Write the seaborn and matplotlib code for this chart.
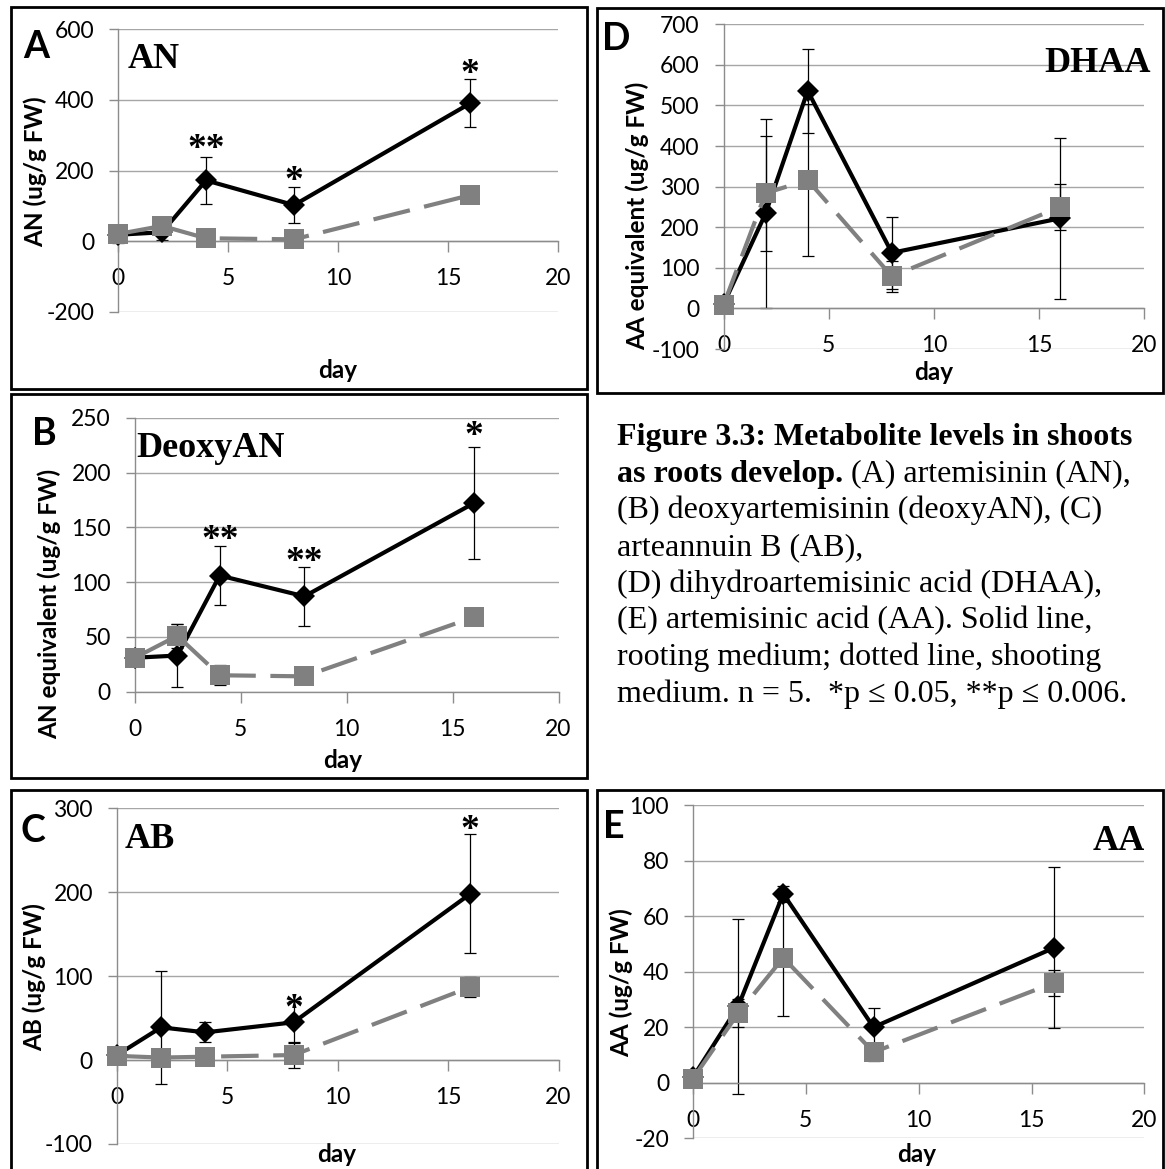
import matplotlib
matplotlib.use("Agg")
import matplotlib.pyplot as plt
import seaborn as sns
import pandas as pd
from matplotlib.patches import Rectangle

# ---------------- data ----------------
days = [0, 2, 4, 8, 16]

an_root = [18, 25, 172, 102, 390]
an_root_err = [22, 23, 66, 50, 68]
an_shoot = [20, 43, 8, 5, 130]
an_shoot_err = [5, 8, 5, 3, 8]
an_star_days = [4, 8, 16]
an_star_vals = [285, 194, 497]
an_star_txt = ["**", "*", "*"]

deoxy_root = [31, 33, 106, 87, 172]
deoxy_root_err = [7, 29, 27, 27, 51]
deoxy_shoot = [31, 51, 15, 14, 68]
deoxy_shoot_err = [3, 11, 9, 3, 4]
deoxy_star_days = [4, 8, 16]
deoxy_star_vals = [146, 126, 241]
deoxy_star_txt = ["**", "**", "*"]

ab_root = [6, 39, 33, 45, 198]
ab_root_err = [3, 67, 12, 25, 71]
ab_shoot = [5, 3, 4, 6, 87]
ab_shoot_err = [2, 2, 3, 15, 12]
ab_star_days = [8, 16]
ab_star_vals = [71, 284]
ab_star_txt = ["*", "*"]

dhaa_root = [10, 234, 536, 137, 222]
dhaa_root_err = [5, 232, 104, 89, 199]
dhaa_shoot = [8, 284, 316, 79, 250]
dhaa_shoot_err = [5, 142, 187, 39, 57]

aa_root = [2, 27.5, 68, 20, 48.6]
aa_root_err = [1, 31.5, 3, 7, 29]
aa_shoot = [1.5, 25, 45, 11, 36]
aa_shoot_err = [1, 5, 21, 3, 4.7]

caption_lines = [
    [("Figure 3.3: Metabolite levels in shoots", "bold")],
    [("as roots develop.", "bold"), (" (A) artemisinin (AN),", "normal")],
    [("(B) deoxyartemisinin (deoxyAN), (C)", "normal")],
    [("arteannuin B (AB),", "normal")],
    [("(D) dihydroartemisinic acid (DHAA),", "normal")],
    [("(E) artemisinic acid (AA). Solid line,", "normal")],
    [("rooting medium; dotted line, shooting", "normal")],
    [("medium. n = 5.  *p \u2264 0.05, **p \u2264 0.006.", "normal")],
]

# ---------------- style ----------------
W, H = 1165, 1169
sns.set_theme(style="white")
plt.rcParams['font.family'] = ['Lato', 'DejaVu Sans']
plt.rcParams['axes.unicode_minus'] = False
SANS = ['Lato', 'DejaVu Sans']
SERIF = ['Liberation Serif', 'DejaVu Serif']
GRID = '#a6a6a6'
AXC = '#8c8c8c'
PX = 0.72  # points per pixel at 100 dpi
TICK_FS = 16.5
LAB_FS = 17.5

fig = plt.figure(figsize=(W / 100, H / 100), dpi=100)
fig.patch.set_facecolor('white')

# panel frames (pixel coords, y from top)
frames = [(10.5, 7.5, 587, 389), (10.5, 394, 587, 778), (10.5, 790, 587, 1180),
          (597, 7.5, 1162.5, 393), (597, 790, 1162.5, 1180)]
for x0, y0, x1, y1 in frames:
    fig.patches.append(Rectangle((x0 / W, 1 - y1 / H), (x1 - x0) / W, (y1 - y0) / H,
                                 transform=fig.transFigure, fill=False,
                                 edgecolor='black', linewidth=2.0, zorder=0))


def panel(box, ylim, ystep, root, root_err, shoot, shoot_err, ylabel, ylab_xy,
          day_xy, letter, letter_xy, name, name_xy, name_ha,
          star_days=(), star_vals=(), star_txt=()):
    l, r, t, b = box
    ax = fig.add_axes([l / W, 1 - b / H, (r - l) / W, (b - t) / H])
    ax.set_facecolor('none')
    # error bars first (behind markers)
    ax.errorbar(days, root, yerr=root_err, fmt='none', ecolor='black',
                elinewidth=0.9, capsize=4.6, capthick=0.9, zorder=2, clip_on=False)
    ax.errorbar(days, shoot, yerr=shoot_err, fmt='none', ecolor='black',
                elinewidth=0.9, capsize=4.6, capthick=0.9, zorder=2, clip_on=False)
    sns.lineplot(x=days, y=root, ax=ax, color='black', marker='D', markersize=11.5,
                 markeredgecolor='black', markeredgewidth=0, linewidth=3.0,
                 errorbar=None, clip_on=False, zorder=3)
    sns.lineplot(x=days, y=shoot, ax=ax, color='#808080', marker='s', markersize=15,
                 markeredgecolor='#808080', markeredgewidth=0, linewidth=3.0,
                 linestyle=(0, (9, 3.5)), errorbar=None, clip_on=False, zorder=4)
    ax.set_xlim(0, 20)
    ax.set_ylim(*ylim)
    ax.set_xticks([0, 5, 10, 15, 20])
    yt = list(range(ylim[0], ylim[1] + 1, ystep))
    ax.set_yticks(yt)
    ax.yaxis.grid(True, color=GRID, linewidth=1.0)
    ax.xaxis.grid(False)
    ax.set_axisbelow(True)
    for s in ['top', 'right']:
        ax.spines[s].set_visible(False)
    ax.spines['left'].set_color(AXC)
    ax.spines['left'].set_linewidth(1.0)
    ax.spines['bottom'].set_color(AXC)
    ax.spines['bottom'].set_linewidth(1.0)
    ax.spines['bottom'].set_position(('data', 0))
    ax.tick_params(axis='x', direction='out', length=11 * PX, width=1.0, color=AXC,
                   pad=16 * PX, labelsize=TICK_FS, labelcolor='black', bottom=True)
    ax.tick_params(axis='y', direction='out', length=9 * PX, width=1.0, color=AXC,
                   pad=15 * PX, labelsize=TICK_FS, labelcolor='black', left=True)
    ax.set_xlabel('day', fontsize=LAB_FS, fontweight='bold', color='black')
    ax.set_ylabel(ylabel, fontsize=LAB_FS, fontweight='bold', color='black')
    ax.xaxis.set_label_coords((day_xy[0] - l) / (r - l), (b - day_xy[1]) / (b - t))
    ax.xaxis.label.set_va('center')
    ax.yaxis.set_label_coords((ylab_xy[0] - l) / (r - l), (b - ylab_xy[1]) / (b - t))
    ax.yaxis.label.set_va('center')
    for d, v, s in zip(star_days, star_vals, star_txt):
        ax.annotate(s, xy=(d, v), xytext=(0, -13), textcoords='offset points',
                    ha='center', va='baseline', fontsize=27, fontweight='bold',
                    family=SERIF, color='black', zorder=6, annotation_clip=False)
    fig.text(letter_xy[0] / W, 1 - letter_xy[1] / H, letter, ha='center', va='baseline',
             fontsize=27, fontweight='bold', family=SANS, color='black')
    fig.text(name_xy[0] / W, 1 - name_xy[1] / H, name, ha=name_ha, va='baseline',
             fontsize=26, fontweight='bold', family=SERIF, color='black')
    return ax


panel((118, 558, 29.3, 311.7), (-200, 600), 200, an_root, an_root_err, an_shoot, an_shoot_err,
      'AN (ug/g FW)', (35, 172), (338, 370), 'A', (36, 58.5), 'AN', (128, 68), 'left',
      an_star_days, an_star_vals, an_star_txt)
panel((135, 558.5, 417.7, 691.7), (0, 250), 50, deoxy_root, deoxy_root_err, deoxy_shoot,
      deoxy_shoot_err, 'AN equivalent (ug/g FW)', (49, 604), (343, 760), 'B', (44, 445),
      'DeoxyAN', (136, 457), 'left', deoxy_star_days, deoxy_star_vals, deoxy_star_txt)
panel((117, 558.5, 808.3, 1144), (-100, 300), 100, ab_root, ab_root_err, ab_shoot, ab_shoot_err,
      'AB (ug/g FW)', (34, 977), (337, 1155), 'C', (33, 842), 'AB', (125, 848), 'left',
      ab_star_days, ab_star_vals, ab_star_txt)
panel((723.5, 1144.4, 24.3, 349), (-100, 700), 100, dhaa_root, dhaa_root_err, dhaa_shoot,
      dhaa_shoot_err, 'AA equivalent (ug/g FW)', (637, 216), (934, 372), 'D', (616, 50),
      'DHAA', (1151, 72), 'right')
panel((693, 1144.4, 805, 1138.3), (-20, 100), 20, aa_root, aa_root_err, aa_shoot, aa_shoot_err,
      'AA (ug/g FW)', (621, 983), (917, 1155), 'E', (614, 838), 'AA', (1145, 850), 'right')

# caption with mixed weights
renderer = fig.canvas.get_renderer()
x_start = 617
base0 = 445
step = 36.7
for i, parts in enumerate(caption_lines):
    x = x_start
    y = base0 + i * step
    for txt, wt in parts:
        t = fig.text(x / W, 1 - y / H, txt, ha='left', va='baseline', fontsize=23,
                     fontweight=wt, family=SERIF, color='black')
        bb = t.get_window_extent(renderer=renderer)
        x = bb.x1

fig.savefig('out.png', dpi=100, facecolor='white')
